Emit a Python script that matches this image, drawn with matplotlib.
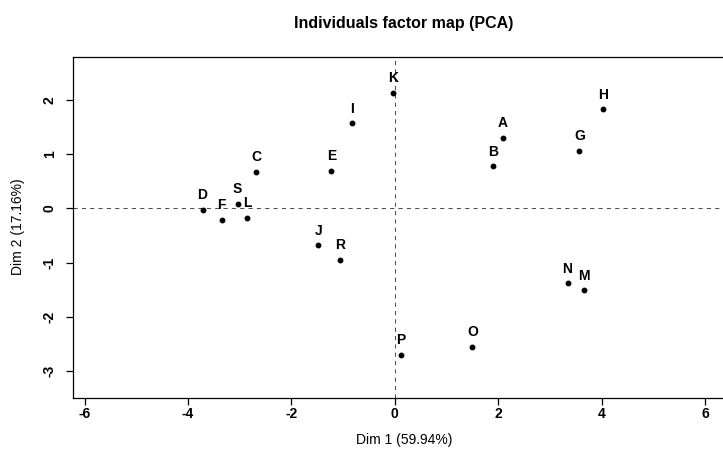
import matplotlib
matplotlib.use("Agg")
import matplotlib.pyplot as plt

names = ["A", "B", "C", "D", "E", "F", "G", "H", "I", "J",
         "K", "L", "M", "N", "O", "P", "R", "S"]
dim1 = [2.09, 1.90, -2.68, -3.72, -1.23, -3.35, 3.57, 4.02, -0.83, -1.48,
        -0.03, -2.86, 3.65, 3.34, 1.50, 0.12, -1.06, -3.04]
dim2 = [1.30, 0.78, 0.68, -0.02, 0.70, -0.21, 1.06, 1.83, 1.57, -0.68,
        2.13, -0.17, -1.51, -1.38, -2.55, -2.70, -0.95, 0.09]
xticks = [-6, -4, -2, 0, 2, 4, 6]
yticks = [-3, -2, -1, 0, 1, 2]
title = "Individuals factor map (PCA)"
xlabel = "Dim 1 (59.94%)"
ylabel = "Dim 2 (17.16%)"

plt.rcParams['font.family'] = ['Liberation Sans', 'DejaVu Sans']

W, H = 723, 467
fig = plt.figure(figsize=(W / 100, H / 100), dpi=100)
left, right, top, bottom = 73.3, 735.0, 56.7, 397.7
ax = fig.add_axes([left / W, 1 - bottom / H, (right - left) / W, (bottom - top) / H])
ax.set_xlim(-6.22, 6.58)
ax.set_ylim(-3.49, 2.80)

ax.axhline(0, color='0.3', lw=0.75, linestyle=(0, (4, 4)), zorder=1)
ax.axvline(0, color='0.3', lw=0.75, linestyle=(0, (4, 4)), zorder=1)
ax.plot(dim1, dim2, 'o', color='black', markersize=3.2, linestyle='none', zorder=3)
for n, x, y in zip(names, dim1, dim2):
    ax.annotate(n, (x, y), xytext=(0, 5.5), textcoords='offset points',
                ha='center', va='bottom', fontsize=10, fontweight='bold')

for s in ax.spines.values():
    s.set_linewidth(0.9)
    s.set_color('black')
ax.spines['right'].set_visible(False)

ax.set_xticks(xticks)
ax.set_yticks(yticks)
ax.set_xticklabels([str(v) for v in xticks], fontsize=10, fontweight='bold')
ax.set_yticklabels([str(v) for v in yticks], fontsize=10, fontweight='bold',
                   rotation=90, va='center')
ax.tick_params(axis='both', length=5, width=0.9, color='black', direction='out')
ax.tick_params(axis='x', pad=2)
ax.tick_params(axis='y', pad=7)

fig.text(404 / W, 1 - 23.5 / H, title, ha='center', va='center',
         fontsize=11.5, fontweight='bold')
fig.text(404 / W, 1 - 440 / H, xlabel, ha='center', va='center', fontsize=10)
fig.text(18 / W, 1 - 227 / H, ylabel, ha='center', va='center', fontsize=10,
         rotation=90)

fig.savefig("out.png", dpi=100)
